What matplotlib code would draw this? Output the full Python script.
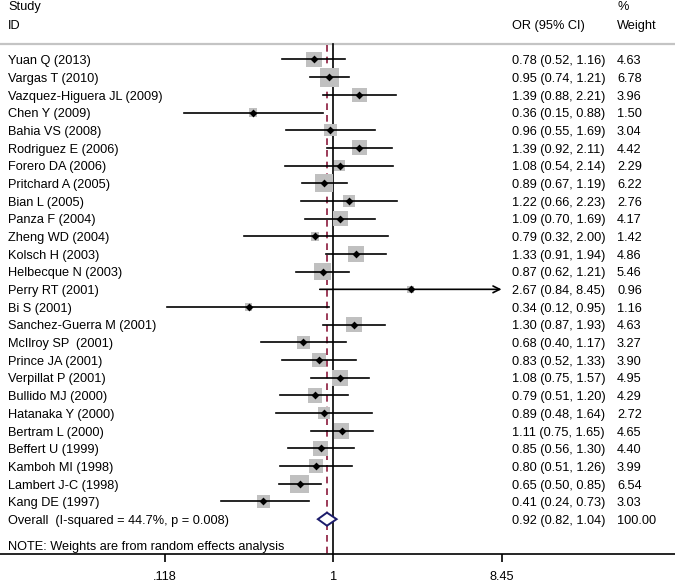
import numpy as np
import matplotlib
matplotlib.use("Agg")
import matplotlib.pyplot as plt
from matplotlib.patches import Polygon
from matplotlib.transforms import blended_transform_factory

plt.rcParams['font.family'] = ['Liberation Sans', 'DejaVu Sans']

studies = ["Yuan Q (2013)", "Vargas T (2010)", "Vazquez-Higuera JL (2009)", "Chen Y (2009)",
           "Bahia VS (2008)", "Rodriguez E (2006)", "Forero DA (2006)", "Pritchard A (2005)",
           "Bian L (2005)", "Panza F (2004)", "Zheng WD (2004)", "Kolsch H (2003)",
           "Helbecque N (2003)", "Perry RT (2001)", "Bi S (2001)", "Sanchez-Guerra M (2001)",
           "McIlroy SP  (2001)", "Prince JA (2001)", "Verpillat P (2001)", "Bullido MJ (2000)",
           "Hatanaka Y (2000)", "Bertram L (2000)", "Beffert U (1999)", "Kamboh MI (1998)",
           "Lambert J-C (1998)", "Kang DE (1997)"]
or_vals = [0.78, 0.95, 1.39, 0.36, 0.96, 1.39, 1.08, 0.89, 1.22, 1.09, 0.79, 1.33, 0.87,
           2.67, 0.34, 1.30, 0.68, 0.83, 1.08, 0.79, 0.89, 1.11, 0.85, 0.80, 0.65, 0.41]
ci_low = [0.52, 0.74, 0.88, 0.15, 0.55, 0.92, 0.54, 0.67, 0.66, 0.70, 0.32, 0.91, 0.62,
          0.84, 0.12, 0.87, 0.40, 0.52, 0.75, 0.51, 0.48, 0.75, 0.56, 0.51, 0.50, 0.24]
ci_high = [1.16, 1.21, 2.21, 0.88, 1.69, 2.11, 2.14, 1.19, 2.23, 1.69, 2.00, 1.94, 1.21,
           8.45, 0.95, 1.93, 1.17, 1.33, 1.57, 1.20, 1.64, 1.65, 1.30, 1.26, 0.85, 0.73]
weights = [4.63, 6.78, 3.96, 1.50, 3.04, 4.42, 2.29, 6.22, 2.76, 4.17, 1.42, 4.86, 5.46,
           0.96, 1.16, 4.63, 3.27, 3.90, 4.95, 4.29, 2.72, 4.65, 4.40, 3.99, 6.54, 3.03]
overall_label = "Overall  (I-squared = 44.7%, p = 0.008)"
overall_or, overall_lo, overall_hi = 0.92, 0.82, 1.04
overall_weight = 100.00
note_text = "NOTE: Weights are from random effects analysis"
tick_vals = [0.118, 1, 8.45]
tick_labels = [".118", "1", "8.45"]

W, H = 675, 583
fig = plt.figure(figsize=(W / 100, H / 100), dpi=100)
ax_bottom = 29 / H
ax = fig.add_axes([0, ax_bottom, 1, 1 - ax_bottom])
ax.set_xscale('log')
ax.set_xlim(0.01447, 76.5)
ax.set_ylim(27.97, -3.365)

for s in ['left', 'top', 'right']:
    ax.spines[s].set_visible(False)
ax.spines['bottom'].set_linewidth(1.2)
ax.set_yticks([])
ax.set_xticks(tick_vals)
ax.set_xticklabels(tick_labels, fontsize=9.2)
ax.minorticks_off()
ax.tick_params(axis='x', direction='out', length=6, width=1.2, pad=6)

n = len(studies)
ys = np.arange(n)
fs = 9.2
dy = 0.1
tx = blended_transform_factory(ax.transAxes, ax.transData)

# header
ax.text(8 / W, -3.05 + dy, "Study", transform=tx, fontsize=fs, va='center')
ax.text(8 / W, -2.02 + dy, "ID", transform=tx, fontsize=fs, va='center')
ax.text(512 / W, -2.02 + dy, "OR (95% CI)", transform=tx, fontsize=fs, va='center')
ax.text(617 / W, -3.05 + dy, "%", transform=tx, fontsize=fs, va='center')
ax.text(617 / W, -2.02 + dy, "Weight", transform=tx, fontsize=fs, va='center')
ax.axhline(-0.877, color='#c4c4c4', lw=1.6)

# reference lines
ax.plot([1, 1], [-0.877, 27.97], color='black', lw=1.2, zorder=2)
ax.plot([overall_or, overall_or], [-0.8, 27.97], color='#8b1a3c', lw=1.2,
        dashes=(4, 3), zorder=2)

# studies
xmax_plot = tick_vals[-1]
for i in range(n):
    lo, hi = ci_low[i], ci_high[i]
    if hi >= xmax_plot:
        ax.annotate("", xy=(hi, i), xytext=(lo, i),
                    arrowprops=dict(arrowstyle='->', color='black', lw=1.2,
                                    shrinkA=0, shrinkB=0, mutation_scale=12), zorder=3)
    else:
        ax.plot([lo, hi], [i, i], color='black', lw=1.2, zorder=3)
side_pt = 7.18 * np.sqrt(np.array(weights)) * 0.72
ax.scatter(or_vals, ys, marker='s', s=side_pt ** 2, color='#c0c0c0', linewidths=0, zorder=2.5)
ax.scatter(or_vals, ys, marker='D', s=16, color='black', linewidths=0, zorder=4)

for i in range(n):
    ax.text(8 / W, i + dy, studies[i], transform=tx, fontsize=fs, va='center')
    ax.text(512 / W, i + dy, f"{or_vals[i]:.2f} ({ci_low[i]:.2f}, {ci_high[i]:.2f})",
            transform=tx, fontsize=fs, va='center')
    ax.text(617 / W, i + dy, f"{weights[i]:.2f}", transform=tx, fontsize=fs, va='center')

# overall
yo = n
h = 0.37
diamond = Polygon([[overall_lo, yo], [overall_or, yo - h], [overall_hi, yo], [overall_or, yo + h]],
                  closed=True, facecolor='white', edgecolor='#1c1c6b', lw=1.4, zorder=5)
ax.add_patch(diamond)
ax.text(8 / W, yo + dy, overall_label, transform=tx, fontsize=fs, va='center')
ax.text(512 / W, yo + dy, f"{overall_or:.2f} ({overall_lo:.2f}, {overall_hi:.2f})",
        transform=tx, fontsize=fs, va='center')
ax.text(617 / W, yo + dy, f"{overall_weight:.2f}", transform=tx, fontsize=fs, va='center')

ax.text(8 / W, 27.45 + dy, note_text, transform=tx, fontsize=fs, va='center')

fig.savefig("out.png", dpi=100)
